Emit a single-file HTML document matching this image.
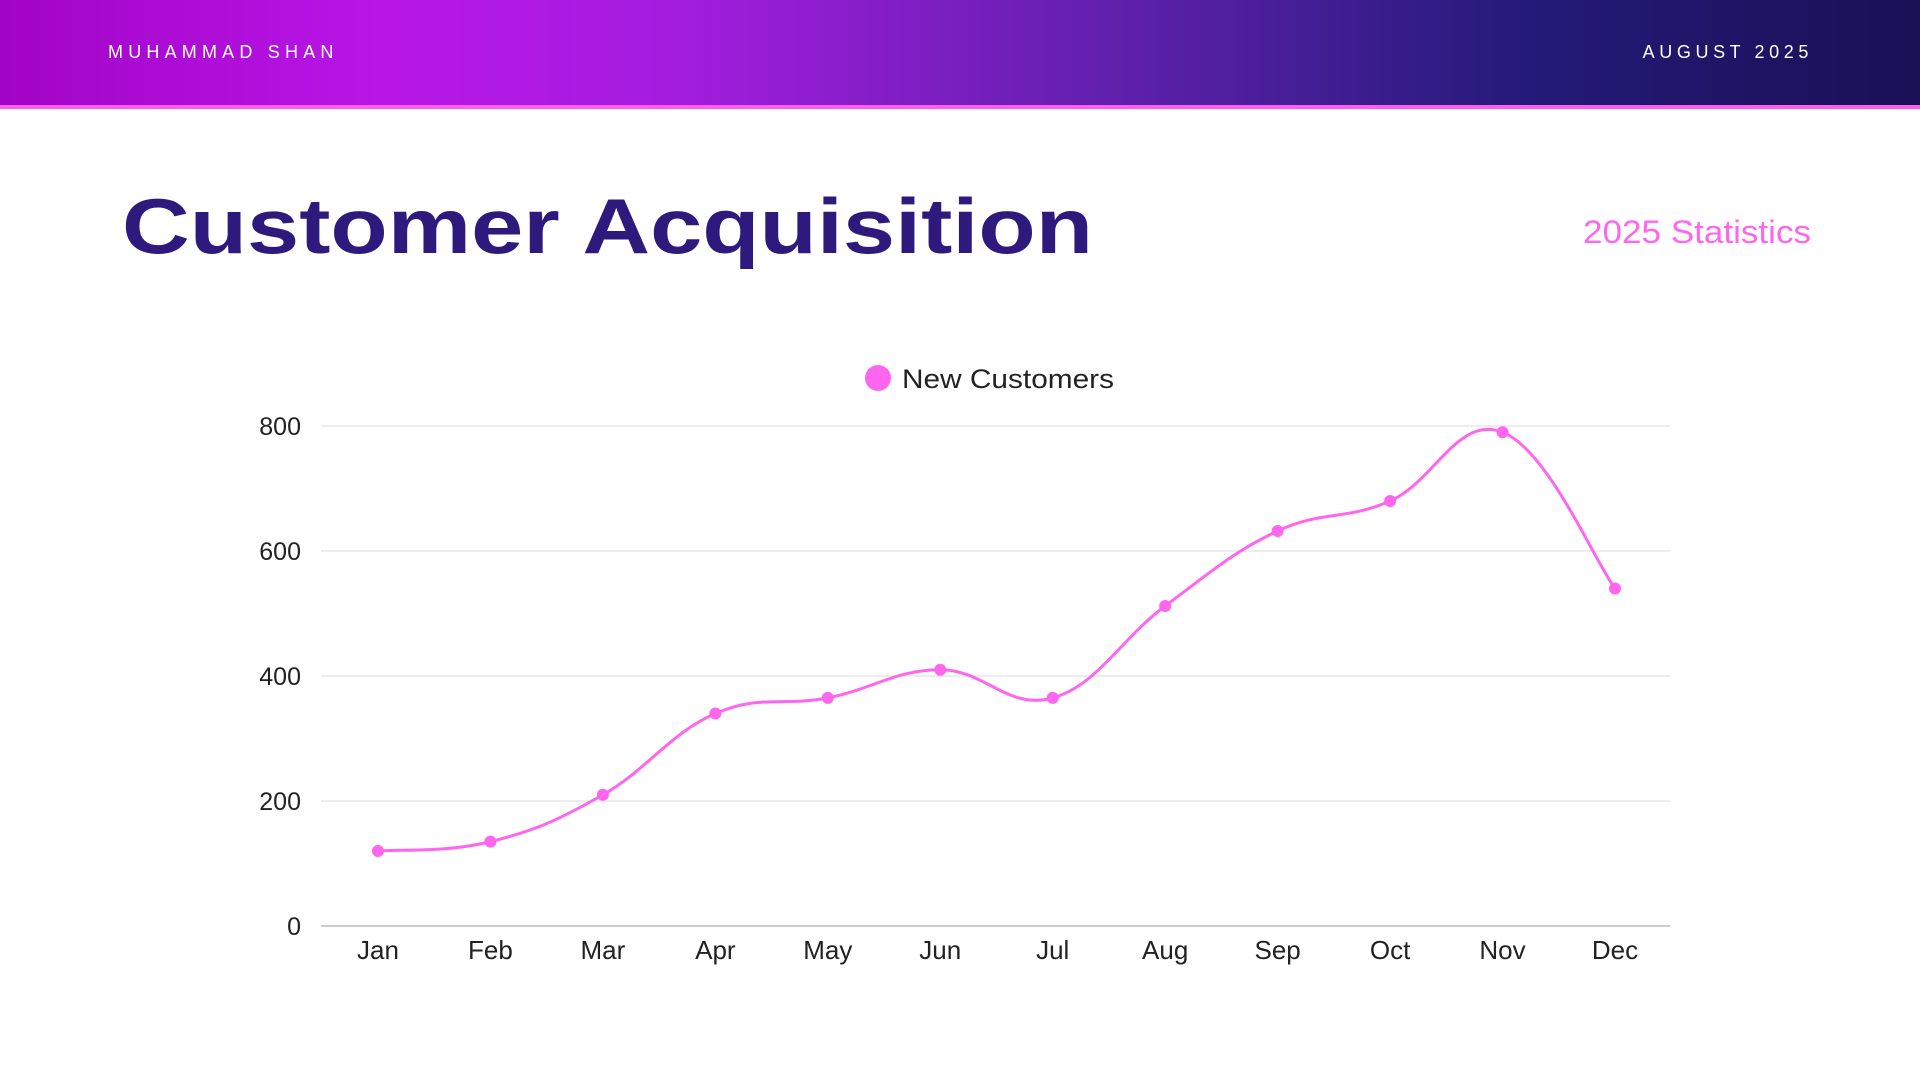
<!DOCTYPE html>
<html><head><meta charset="utf-8">
<style>
html,body{margin:0;padding:0;width:1920px;height:1080px;overflow:hidden;background:#fff;font-family:"Liberation Sans",sans-serif}
</style></head>
<body>
<svg id="chart" width="1920" height="1080" viewBox="0 0 1920 1080" xmlns="http://www.w3.org/2000/svg">
<defs>
<linearGradient id="hg" x1="0" y1="0" x2="1" y2="0">
<stop offset="0" stop-color="#a204c6"/>
<stop offset="0.2" stop-color="#b816e6"/>
<stop offset="0.35" stop-color="#a41ddf"/>
<stop offset="0.6" stop-color="#5a20a8"/>
<stop offset="0.8" stop-color="#231a78"/>
<stop offset="1" stop-color="#1a1055"/>
</linearGradient>
</defs>
<rect x="0" y="0" width="1920" height="105" fill="url(#hg)"/>
<rect x="0" y="105" width="1920" height="4" fill="#ff5cf0"/>
<text x="108" y="58" font-size="18" fill="#fff" letter-spacing="5.2">MUHAMMAD SHAN</text>
<text x="1813" y="58" font-size="18" fill="#fff" letter-spacing="4.6" text-anchor="end">AUGUST 2025</text>
<text x="122" y="253" font-size="78" font-weight="bold" fill="#2d1a7c" textLength="971" lengthAdjust="spacingAndGlyphs">Customer Acquisition</text>
<text x="1811" y="243" font-size="32" fill="#ff66ee" text-anchor="end" textLength="228" lengthAdjust="spacingAndGlyphs">2025 Statistics</text>
<circle cx="878" cy="378" r="13" fill="#ff66ee"/>
<text x="902" y="388" font-size="27" fill="#222" textLength="212" lengthAdjust="spacingAndGlyphs">New Customers</text>
<g id="grid"></g>
<g id="xlabels"></g>
<path id="line" fill="none" stroke="#ff66ee" stroke-width="3"/>
<g id="points"></g>
</svg>
<script>
const categories=["Jan","Feb","Mar","Apr","May","Jun","Jul","Aug","Sep","Oct","Nov","Dec"];
const values=[120,135,210,340,365,410,365,512,632,680,790,540];
const yTicks=[0,200,400,600,800];
const NS="http://www.w3.org/2000/svg";
const X0=378,X1=1615,Y0=926,Y1=426,YMAX=800,PL=321,PR=1670;
function xs(i){return X0+(X1-X0)*i/(categories.length-1);}
function ys(v){return Y0-(Y0-Y1)*v/YMAX;}
function mk(t,a){const e=document.createElementNS(NS,t);for(const k in a)e.setAttribute(k,a[k]);return e;}
const grid=document.getElementById('grid');
yTicks.forEach(t=>{
  const l=mk('line',{x1:PL,x2:PR,y1:ys(t),y2:ys(t),stroke:t===0?'#bbb':'#e2e2e2','stroke-width':t===0?1.5:1.2});
  
  
  grid.appendChild(l);
  const tx=mk('text',{x:301,y:ys(t)+9,'font-size':25,fill:'#222','text-anchor':'end'});
  tx.textContent=t;
  
  
  grid.appendChild(tx);
});
const xl=document.getElementById('xlabels');
categories.forEach((c,i)=>{
  const tx=mk('text',{x:xs(i),y:959,'font-size':26,fill:'#222','text-anchor':'middle'});
  tx.textContent=c;
  
  
  xl.appendChild(tx);
});
const pts=values.map((v,i)=>[xs(i),ys(v)]);
const tension=0.4;
let d='M'+pts[0][0]+','+pts[0][1];
for(let i=0;i<pts.length-1;i++){
  const p0=pts[Math.max(0,i-1)],p1=pts[i],p2=pts[i+1],p3=pts[Math.min(pts.length-1,i+2)];
  const c1=[p1[0]+(p2[0]-p0[0])*tension/2,p1[1]+(p2[1]-p0[1])*tension/2];
  const c2=[p2[0]-(p3[0]-p1[0])*tension/2,p2[1]-(p3[1]-p1[1])*tension/2];
  d+=' C'+c1[0]+','+c1[1]+' '+c2[0]+','+c2[1]+' '+p2[0]+','+p2[1];
}
document.getElementById('line').setAttribute('d',d);
const pg=document.getElementById('points');
pts.forEach((p,i)=>{
  const c=mk('circle',{cx:p[0],cy:p[1],r:6,fill:'#ff66ee'});
  
  
  pg.appendChild(c);
});
</script>
</body></html>
